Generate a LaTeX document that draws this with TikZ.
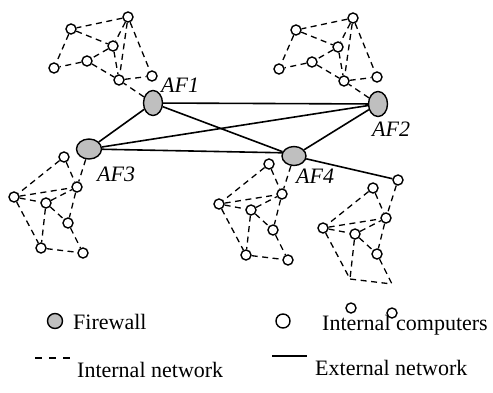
\documentclass[tikz,border=0pt]{standalone}
\usepackage{fontspec}
\setmainfont{Liberation Serif}
\usetikzlibrary{shapes.geometric, positioning}

\begin{document}
\begin{tikzpicture}[
        x=1pt, y=-1pt,
        pc/.style={draw, circle, fill=white, line width=1.4pt, inner sep=0pt, minimum size=10pt},
        corner/.style={inner sep=0pt, minimum size=0pt},
        fw/.style={draw, ellipse, fill=black!25, line width=1.4pt, inner sep=0pt},
        lan/.style={line width=1.3pt, dash pattern=on 6pt off 4.5pt},
        wan/.style={line width=1.6pt},
        txt/.style={inner sep=0pt, anchor=base west, font=\fontsize{22}{26}\selectfont}
        ]
        \useasboundingbox (0,0) rectangle (493,392);

        % Firewalls
        \node[fw, minimum width=19pt, minimum height=25pt] (AF1) at (153,103) {};
        \node[fw, minimum width=19pt, minimum height=25pt] (AF2) at (378,104) {};
        \node[fw, minimum width=25pt, minimum height=20pt] (AF3) at (89,149) {};
        \node[fw, minimum width=24pt, minimum height=19pt] (AF4) at (294,156) {};
        \node[pc] (pcx) at (398,180) {};

        % Labels
        \node[txt] (lAF1) at (161,92) {\textit{AF1}};
        \node[txt] (lAF2) at (372,136) {\textit{AF2}};
        \node[txt] (lAF3) at (97,181) {\textit{AF3}};
        \node[txt] (lAF4) at (296,183) {\textit{AF4}};

        % External links
        \draw [wan] (AF1) -- (AF2);
        \draw [wan] (AF1) -- (AF3);
        \draw [wan] (AF1) -- (AF4);
        \draw [wan] (AF3) -- (AF2);
        \draw [wan] (AF2) -- (AF4);
        \draw [wan] (AF3) -- (AF4.165);
        \draw [wan] (AF4) -- (pcx);

        % Internal networks above
        \foreach \hub/\pre in {AF1/tl, AF2/tr} {
            \begin{scope}[shift={(\hub)}, name prefix=\pre-]
                \foreach \n/\x/\y in {a/-25/-86, b/-82/-74, c/-40/-57, d/-66/-42, e/-99/-35, f/-34/-23, g/-1/-27}
                    \node[pc] (\n) at (\x,\y) {};
                \foreach \i/\j in {a/b, a/c, a/f, a/g, b/c, b/e, c/d, c/f, d/e, d/f, f/g}
                    \draw [lan] (\i) -- (\j);
            \end{scope}
            \draw [lan] (\hub) -- (\pre-f);
        }

        % Internal networks below
        \foreach \hub/\pre/\cs in {AF3/bl/pc, AF4/bm/pc, pcx/br/corner} {
            \begin{scope}[shift={(\hub)}, name prefix=\pre-]
                \foreach \n/\x/\y in {p/-25/8, q/-12/38, r/-75/48, s/-43/54, t/-21/74}
                    \node[pc] (\n) at (\x,\y) {};
                \node[\cs] (u) at (-48,99) {};
                \node[\cs] (v) at (-6,104) {};
                \foreach \i/\j in {p/q, p/r, r/q, r/s, s/q, s/u, s/t, q/t, r/u, t/v, u/v}
                    \draw [lan] (\i) -- (\j);
            \end{scope}
            \draw [lan] (\hub) -- (\pre-q);
        }
        % \node[pc] (br-u) at (350,280) {};
        \node[pc] (br-uc) at (351,308) {};
        \node[pc] (br-vc) at (392,313) {};

        % Legend
        \node[fw, minimum size=15pt] (keyfw) at (55,321) {};
        \node[txt] (keyfwtxt) at (73,329) {Firewall};
        \node[pc, minimum size=14pt] (keypc) at (283,321) {};
        \node[txt] (keypctxt) at (322,330) {Internal computers};
        \coordinate (keylanA) at (35,358);
        \coordinate (keylanB) at (70,358);
        \draw [line width=1.2pt, dash pattern=on 7pt off 7pt] (keylanA) -- (keylanB);
        \node[txt] (keylantxt) at (77,377) {Internal network};
        \coordinate (keywanA) at (272,356);
        \coordinate (keywanB) at (307,356);
        \draw [wan] (keywanA) -- (keywanB);
        \node[txt] (keywantxt) at (315,375) {External network};
    \end{tikzpicture}
\end{document}
